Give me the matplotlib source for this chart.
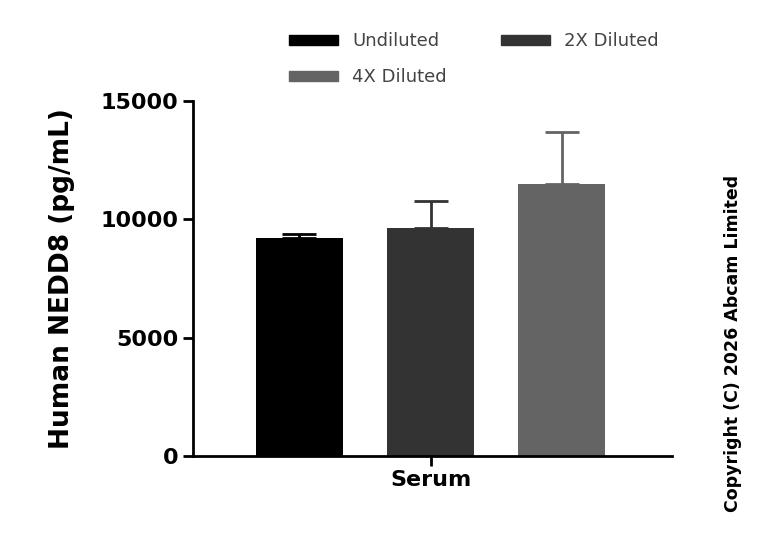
import matplotlib
matplotlib.use("Agg")
import matplotlib.pyplot as plt
from matplotlib.patches import Patch

plt.rcParams['font.family'] = ['DejaVu Sans']

series = ["Undiluted", "2X Diluted", "4X Diluted"]
values = [9210, 9630, 11490]
errors = [150, 1140, 2200]
colors = ["#000000", "#333333", "#646464"]
category = "Serum"

fig = plt.figure(figsize=(7.68, 5.37), dpi=100)
ax = fig.add_axes([0.251, 0.151, 0.624, 0.661])
x = [0, 1, 2]
for xi, v, e, c in zip(x, values, errors, colors):
    ax.bar(xi, v, width=0.664, color=c, zorder=2)
    ax.errorbar(xi, v, yerr=[[0], [e]], fmt='none', ecolor=c, elinewidth=2, capsize=12, capthick=2, zorder=1)
ax.set_xlim(-0.813, 2.84)
ax.set_ylim(0, 15000)
ax.set_yticks([0, 5000, 10000, 15000])
ax.set_yticklabels(["0", "5000", "10000", "15000"], fontsize=16, fontweight='bold')
ax.set_xticks([1])
ax.set_xticklabels([category], fontsize=16, fontweight='bold')
ax.set_ylabel("Human NEDD8 (pg/mL)", fontsize=19, fontweight='bold', labelpad=18)
for s in ["top", "right"]:
    ax.spines[s].set_visible(False)
for s in ["left", "bottom"]:
    ax.spines[s].set_linewidth(2)
ax.tick_params(width=2, length=7)

order = [0, 2, 1]
handles = [Patch(color=colors[i]) for i in order]
labels = [series[i] for i in order]
fig.legend(handles, labels, loc="upper left", bbox_to_anchor=(0.355, 0.97), ncol=2,
           frameon=False, fontsize=13, handlelength=2.7, handleheight=0.5,
           columnspacing=3.0, labelspacing=1.0, labelcolor="#444444")
fig.text(0.955, 0.36, "Copyright (C) 2026 Abcam Limited", rotation=90, ha='center', va='center',
         fontsize=12.5, fontweight='bold')
fig.savefig("out.png", dpi=100)
